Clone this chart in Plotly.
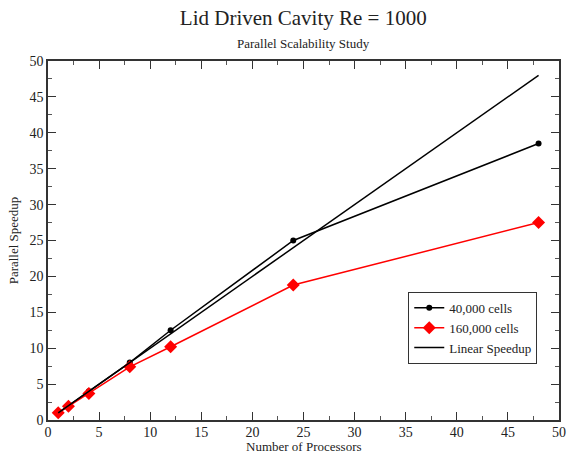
import plotly.graph_objects as go

procs = [1, 2, 4, 8, 12, 24, 48]
speedup_40k = [1, 2, 4, 8, 12.5, 25, 38.5]
speedup_160k = [1, 1.9, 3.7, 7.4, 10.2, 18.8, 27.5]
linear_x = [1, 48]
linear_y = [1, 48]

font_family = "Liberation Serif"

fig = go.Figure()
fig.add_trace(go.Scatter(x=procs, y=speedup_40k, mode="lines+markers", name="40,000 cells",
                         line=dict(color="black", width=1.5),
                         marker=dict(symbol="circle", size=6, color="black")))
fig.add_trace(go.Scatter(x=procs, y=speedup_160k, mode="lines+markers", name="160,000 cells",
                         line=dict(color="red", width=1.5),
                         marker=dict(symbol="diamond", size=10, color="red")))
fig.add_trace(go.Scatter(x=linear_x, y=linear_y, mode="lines", name="Linear Speedup",
                         line=dict(color="black", width=1.5)))

axis_common = dict(
    showgrid=False, zeroline=False, showline=True, linecolor="#333", linewidth=1.5,
    mirror="ticks", ticks="inside", ticklen=8, tickwidth=1.2, tickcolor="#333",
    dtick=5, range=[0, 50], automargin=False,
    minor=dict(ticks="inside", ticklen=4, dtick=2.5, tickcolor="#555", tickwidth=1),
    tickfont=dict(family=font_family, size=14, color="#222"),
)

fig.update_layout(
    width=569, height=454,
    margin=dict(l=48, r=10, t=61, b=34),
    paper_bgcolor="white", plot_bgcolor="white",
    font=dict(family=font_family, color="#222"),
    title=dict(text="Lid Driven Cavity Re = 1000", x=0.533, xanchor="center", y=0.962, yanchor="middle",
               automargin=False,
               font=dict(family=font_family, size=21, color="#222")),
    xaxis=dict(axis_common, ticklabelstandoff=-2),
    yaxis=dict(axis_common, title=dict(text="Parallel Speedup", standoff=8,
                                       font=dict(family=font_family, size=13))),
    showlegend=True,
    legend=dict(x=0.705, y=0.357, xanchor="left", yanchor="top",
                bgcolor="white", bordercolor="#333", borderwidth=1,
                font=dict(family=font_family, size=13), tracegroupgap=0,
                itemwidth=30),
    annotations=[
        dict(text="Parallel Scalability Study", x=0.5, y=1.0, xref="paper", yref="paper",
             yshift=18, xanchor="center", yanchor="middle", showarrow=False,
             font=dict(family=font_family, size=13, color="#222")),
        dict(text="Number of Processors", x=0.5, y=0.0, xref="paper", yref="paper",
             yshift=-26, xanchor="center", yanchor="middle", showarrow=False,
             font=dict(family=font_family, size=13, color="#222")),
    ],
)

fig.write_html("out.html")
